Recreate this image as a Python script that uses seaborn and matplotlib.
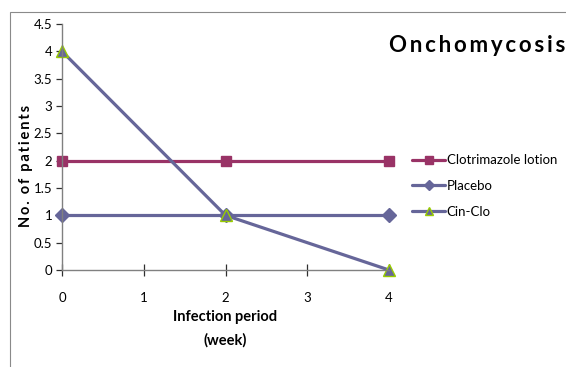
import matplotlib
matplotlib.use("Agg")
import matplotlib.pyplot as plt
import seaborn as sns
import pandas as pd
from matplotlib.patches import Rectangle

weeks = [0, 2, 4]
clotrimazole = [2, 2, 2]
placebo = [1, 1, 1]
cin_clo = [4, 1, 0]
series_names = ["Clotrimazole lotion", "Placebo", "Cin-Clo"]

sns.set_style("white")
plt.rcParams["font.family"] = ["Lato", "DejaVu Sans"]
plt.rcParams["text.color"] = "black"
plt.rcParams["xtick.labelcolor"] = "black"
plt.rcParams["ytick.labelcolor"] = "black"
plt.rcParams["axes.labelcolor"] = "black"


def spaced(word):
    """Insert thin spaces between letters for a tracked-out look."""
    return "  ".join("\u2009".join(w) for w in word.split(" "))


fig = plt.figure(figsize=(5.66, 3.67), dpi=100)
ax = fig.add_axes([62 / 566, 1 - 270 / 367, (389 - 62) / 566, (270 - 24) / 367])

# outer chart frame
fig.patches.append(Rectangle((10 / 566, -0.2), 1.0, 1.2 - 12 / 367,
                             transform=fig.transFigure, fill=False,
                             edgecolor="#8a8a8a", linewidth=0.8))

styles = [
    (clotrimazole, "#993366", "s", 7.5, "#993366", "#993366"),
    (placebo, "#666699", "D", 7.0, "#666699", "#666699"),
    (cin_clo, "#666699", "^", 8.0, "#666699", "#99cc00"),
]
for name, (vals, color, marker, ms, fc, ec) in zip(series_names, styles):
    df = pd.DataFrame({"week": weeks, "patients": vals})
    sns.lineplot(data=df, x="week", y="patients", ax=ax, color=color,
                 linewidth=2.3, marker=marker, markersize=ms,
                 markerfacecolor=fc, markeredgecolor=ec, markeredgewidth=1.0,
                 label=name, clip_on=False)

ax.set_xlim(0, 4)
ax.set_ylim(0, 4.5)
ax.set_xticks([0, 1, 2, 3, 4])
ax.set_yticks([0, 0.5, 1, 1.5, 2, 2.5, 3, 3.5, 4, 4.5])
ax.set_yticklabels(["0", "0.5", "1", "1.5", "2", "2.5", "3", "3.5", "4", "4.5"])
for s in ["top", "right"]:
    ax.spines[s].set_visible(False)
for s in ["left", "bottom"]:
    ax.spines[s].set_color("#808080")
    ax.spines[s].set_linewidth(1.0)
ax.tick_params(axis="x", direction="inout", length=8, width=0.9, color="#303030",
               labelsize=9.5, pad=12)
ax.tick_params(axis="y", direction="out", length=4, width=0.9, color="#303030",
               labelsize=9.5, pad=3)
ax.tick_params(left=True, bottom=True)

ax.set_xlabel("Infection period\n(week)", fontsize=10.5, fontweight="bold",
              linespacing=1.85, labelpad=4)
ax.set_ylabel(spaced("No. of patients"), fontsize=10.5, fontweight="bold")
ax.yaxis.set_label_coords(-29 / 327, (270 - 166) / 246)

fig.text(389 / 566, 1 - 46 / 367, spaced("Onchomycosis"), fontsize=16,
         fontweight="bold", va="center", ha="left")

leg = ax.legend(loc="center left", bbox_to_anchor=(407 / 566, 1 - 186 / 367),
                bbox_transform=fig.transFigure, frameon=False, fontsize=9.5,
                handlelength=2.5, handletextpad=0.1, labelspacing=1.05,
                borderaxespad=0, markerscale=0.75)

fig.savefig("out.png", dpi=100)
